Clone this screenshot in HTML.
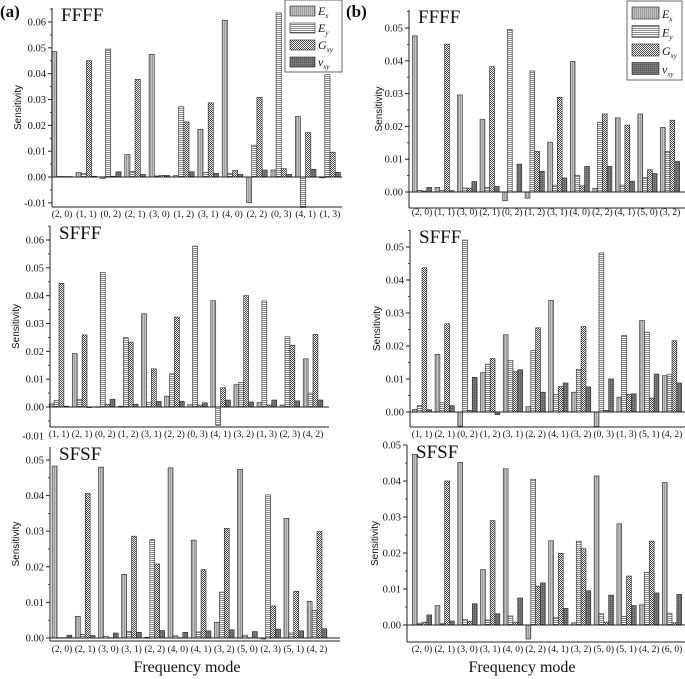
<!DOCTYPE html>
<html><head><meta charset="utf-8"><style>
body{margin:0;background:#fff;}
svg{display:block;font-family:"Liberation Serif",serif;}
</style></head><body>
<svg id="c" width="685" height="679" viewBox="0 0 685 679">
<defs>
<pattern id="pEs" width="2" height="4" patternUnits="userSpaceOnUse"><rect width="2" height="4" fill="#c4c4c4"/><rect width="0.7" height="4" fill="#888"/></pattern>
<pattern id="pEy" width="4" height="2" patternUnits="userSpaceOnUse"><rect width="4" height="2" fill="#fff"/><rect width="4" height="0.7" fill="#555"/></pattern>
<pattern id="pGxy" width="2" height="2" patternUnits="userSpaceOnUse"><rect width="2" height="2" fill="#fff"/><rect width="1" height="1" fill="#444"/><rect x="1" y="1" width="1" height="1" fill="#444"/></pattern>
<pattern id="pVxy" width="2" height="2" patternUnits="userSpaceOnUse"><rect width="2" height="2" fill="#8a8a8a"/><rect width="0.6" height="2" fill="#555"/><rect width="2" height="0.6" fill="#555"/></pattern>
</defs>
</svg>
<script>
const seriesNames=["Es","Ey","Gxy","vxy"];
const fills=["url(#pEs)","url(#pEy)","url(#pGxy)","url(#pVxy)"];
const catA1=["(2, 0)","(1, 1)","(0, 2)","(2, 1)","(3, 0)","(1, 2)","(3, 1)","(4, 0)","(2, 2)","(0, 3)","(4, 1)","(1, 3)"];
const esA1=[0.0485,0.0017,-0.0005,0.0087,0.0475,0.0005,0.0185,0.0607,-0.0099,0.0027,0.0234,-0.0003];
const eyA1=[0.0002,0.0013,0.0495,0.0022,0.0004,0.0272,0.0018,0.0013,0.0123,0.0635,-0.0118,0.0396];
const gA1=[0.0002,0.045,0.0003,0.0378,0.0006,0.0213,0.0287,0.0025,0.0308,0.0032,0.0172,0.0096];
const vA1=[0.0002,0.0003,0.002,0.001,0.0006,0.002,0.0014,0.001,0.0027,0.001,0.003,0.0018];
const catB1=["(2, 0)","(1, 1)","(3, 0)","(2, 1)","(0, 2)","(1, 2)","(3, 1)","(4, 0)","(2, 2)","(4, 1)","(5, 0)","(3, 2)"];
const esB1=[0.0476,0.0014,0.0296,0.0221,-0.0027,-0.0019,0.0152,0.0398,0.0011,0.0226,0.0238,0.0197];
const eyB1=[0.0005,0.0005,0.0012,0.0014,0.0496,0.0369,0.0021,0.005,0.0213,0.0021,0.0044,0.0124];
const gB1=[0.0003,0.0451,0.0012,0.0382,0.0001,0.0124,0.0289,0.0019,0.0238,0.0204,0.0068,0.0219];
const vB1=[0.0014,0.0004,0.0032,0.0017,0.0085,0.0063,0.0043,0.0078,0.0078,0.0033,0.0056,0.0093];
const catA2=["(1, 1)","(2, 1)","(0, 2)","(1, 2)","(3, 1)","(2, 2)","(0, 3)","(4, 1)","(3, 2)","(1, 3)","(2, 3)","(4, 2)"];
const esA2=[0.0011,0.0192,0.0001,0.0003,0.0335,0.0039,0.0008,0.0382,0.008,0.0016,0.0007,0.0173];
const eyA2=[0.0023,0.0028,0.0483,0.0249,0.0016,0.0119,0.0578,-0.0066,0.0088,0.0381,0.0252,0.005];
const gA2=[0.0444,0.0259,0.001,0.0233,0.0137,0.0323,0.0007,0.0069,0.04,0.0007,0.0222,0.0261];
const vA2=[0.0003,0,0.0028,0.001,0.002,0.002,0.0015,0.0025,0.0018,0.0025,0.0022,0.0025];
const catB2=["(1, 1)","(2, 1)","(0, 2)","(1, 2)","(3, 1)","(2, 2)","(4, 1)","(3, 2)","(0, 3)","(1, 3)","(5, 1)","(4, 2)"];
const esB2=[0.0008,0.0175,-0.0043,0.0119,0.0234,0.0016,0.0338,0.006,-0.0044,0.0045,0.0277,0.011];
const eyB2=[0.0019,0.0028,0.0521,0.0145,0.0156,0.0186,0.0053,0.0129,0.0482,0.0232,0.0242,0.0113];
const gB2=[0.0437,0.0267,0.0005,0.0162,0.0122,0.0255,0.0077,0.0259,0.0005,0.0053,0.0042,0.0216];
const vB2=[0.0007,0.0019,0.0105,-0.0008,0.0128,0.006,0.0088,0.0076,0.01,0.0055,0.0115,0.0088];
const catA3=["(2, 0)","(2, 1)","(3, 0)","(3, 1)","(2, 2)","(4, 0)","(4, 1)","(3, 2)","(5, 0)","(2, 3)","(5, 1)","(4, 2)"];
const esA3=[0.0483,0.0061,0.048,0.0179,0.0002,0.0478,0.0275,0.0044,0.0474,-0.0003,0.0336,0.0103];
const eyA3=[0.0001,0.001,0.0005,0.0018,0.0276,0.0006,0.0017,0.0129,0.0008,0.0402,0.0014,0.0078];
const gA3=[0.0001,0.0406,0.0001,0.0286,0.0208,0.0001,0.0192,0.0308,0.0001,0.009,0.0131,0.0299];
const vA3=[0.0008,0.0007,0.0014,0.0016,0.0021,0.0016,0.002,0.0023,0.0018,0.0025,0.002,0.0026];
const catB3=["(2, 0)","(2, 1)","(3, 0)","(3, 1)","(4, 0)","(2, 2)","(4, 1)","(3, 2)","(5, 0)","(5, 1)","(4, 2)","(6, 0)"];
const esB3=[0.0474,0.0054,0.0452,0.0154,0.0434,-0.0039,0.0234,0.0006,0.0414,0.0281,0.0056,0.0396];
const eyB3=[0.0005,0.0005,0.0016,0.0014,0.0025,0.0405,0.002,0.0233,0.0031,0.0024,0.0146,0.0033];
const gB3=[0.0008,0.04,0.001,0.029,0.0008,0.0108,0.0199,0.0212,0.0008,0.0136,0.0233,0.0006];
const vB3=[0.0028,0.0011,0.0059,0.0031,0.0075,0.0117,0.0046,0.0095,0.0083,0.0054,0.0089,0.0085];
const ticksA1=[-0.01,0,0.01,0.02,0.03,0.04,0.05,0.06];
const ticksB1=[0,0.01,0.02,0.03,0.04,0.05];
const ticksA2=[-0.01,0,0.01,0.02,0.03,0.04,0.05,0.06];
const ticksB2=[0,0.01,0.02,0.03,0.04,0.05];
const ticksA3=[0,0.01,0.02,0.03,0.04,0.05];
const ticksB3=[0,0.01,0.02,0.03,0.04,0.05];

const svg=document.getElementById('c');
const NS='http://www.w3.org/2000/svg';
function mk(tag,attrs,parent){const e=document.createElementNS(NS,tag);for(const k in attrs)e.setAttribute(k,attrs[k]);(parent||svg).appendChild(e);return e;}
function fmt(v){return v.toFixed(2);}

const panels=[
 {id:'a-ffff',title:'FFFF',cats:catA1,data:[esA1,eyA1,gA1,vA1],ticks:ticksA1,ax:52,xr:342,y0:177,v1:0.06,y1:22,top:8,bot:207,c0:62,c1:330,ly:217,sx:18,tlbl:-0.01,tly:null},
 {id:'b-ffff',title:'FFFF',cats:catB1,data:[esB1,eyB1,gB1,vB1],ticks:ticksB1,ax:409,xr:685,y0:192,v1:0.05,y1:28,top:10,bot:208,c0:422,c1:670,ly:215,sx:379},
 {id:'a-sfff',title:'SFFF',cats:catA2,data:[esA2,eyA2,gA2,vA2],ticks:ticksA2,ax:50,xr:329,y0:407,v1:0.06,y1:240,top:226,bot:427,c0:59,c1:313,ly:437,sx:16,fixNeg:436},
 {id:'b-sfff',title:'SFFF',cats:catB2,data:[esB2,eyB2,gB2,vB2],ticks:ticksB2,ax:410,xr:685,y0:412,v1:0.05,y1:247,top:230,bot:427,c0:422,c1:672,ly:437,sx:377},
 {id:'a-sfsf',title:'SFSF',cats:catA3,data:[esA3,eyA3,gA3,vA3],ticks:ticksA3,ax:50,xr:340,y0:638,v1:0.05,y1:460,top:447,bot:641,c0:62,c1:317,ly:652,sx:16},
 {id:'b-sfsf',title:'SFSF',cats:catB3,data:[esB3,eyB3,gB3,vB3],ticks:ticksB3,ax:407,xr:685,y0:625,v1:0.05,y1:445,top:445,bot:642,c0:422,c1:672,ly:652,sx:375}
];

panels.forEach(p=>{
 const g=mk('g',{});
 
 
 const k=(p.y0-p.y1)/p.v1;
 const yS=v=>p.y0-v*k;
 const n=p.cats.length;
 const step=(p.c1-p.c0)/(n-1);
 const bw=step*0.85/4;
 // bars
 p.cats.forEach((c,i)=>{
  const cx=p.c0+i*step;
  for(let s=0;s<4;s++){
   const v=p.data[s][i];
   const x=cx-2*bw+s*bw;
   const y=Math.min(yS(v),yS(0));
   const h=Math.max(Math.abs(yS(v)-yS(0)),0.6);
   const r=mk('rect',{x:x.toFixed(2),y:y.toFixed(2),width:bw.toFixed(2),height:h.toFixed(2),fill:fills[s],stroke:'#222','stroke-width':0.6},g);
   
   
  }
  const t=mk('text',{x:cx,y:p.ly,'font-size':9.5,'text-anchor':'middle',fill:'#111'},g);
  t.textContent=c;
  
  
 });
 // axes
 const ya=mk('line',{x1:p.ax,x2:p.ax,y1:p.top,y2:p.bot,stroke:'#222','stroke-width':1},g);
 
 
 const xa=mk('line',{x1:p.ax,x2:p.xr,y1:p.bot,y2:p.bot,stroke:'#222','stroke-width':1},g);
 
 
 const zl=mk('line',{x1:p.ax,x2:p.xr,y1:p.y0,y2:p.y0,stroke:'#222','stroke-width':0.9},g);
 
 
 p.ticks.forEach(v=>{
  let y=yS(v);
  if(v<0 && p.fixNeg) y=p.fixNeg;
  if(y<p.top-3) return;
  if(y<=p.bot+1) mk('line',{x1:p.ax-4,x2:p.ax,y1:y,y2:y,stroke:'#222','stroke-width':1},g);
  const my=yS(v+0.005);
  if(my>p.top && my<p.bot) mk('line',{x1:p.ax-2,x2:p.ax,y1:my,y2:my,stroke:'#222','stroke-width':0.8},g);
  const t=mk('text',{x:p.ax-6,y:y+3.5,'font-size':10.5,'text-anchor':'end',fill:'#111'},g);
  t.textContent=fmt(v);
  
  
 });
 const yl=mk('text',{x:0,y:0,'font-size':10,'text-anchor':'middle','font-family':'Liberation Sans, sans-serif',transform:`translate(${p.sx+3},${(p.top+p.bot)/2}) rotate(-90)`,fill:'#111'},g);
 yl.textContent='Sensitivity';
 
 
 const tt=mk('text',{x:p.ax+9,y:p.top+13,'font-size':19,fill:'#111'},g);
 tt.textContent=p.title;
 
 
});

// panel letters
[['(a)',0],['(b)',346]].forEach(([s,x])=>{
 const t=mk('text',{x:x,y:17,'font-size':17,'font-weight':'bold',fill:'#111'});
 t.textContent=s;
 
 
});
// x axis titles
[187,522].forEach(x=>{
 const t=mk('text',{x:x,y:672,'font-size':16,'text-anchor':'middle',fill:'#111'});
 t.textContent='Frequency mode';
 
 
});
// legends
const labelsHTML=[['E','x'],['E','y'],['G','xy'],['v','xy']];
[{x:285,y:0,w:57,h:72,sw:25,sh:10,dy:17},{x:627,y:1,w:55,h:79,sw:27,sh:12,dy:18.5}].forEach((L,li)=>{
 const g=mk('g',{});
 
 
 mk('rect',{x:L.x,y:L.y,width:L.w,height:L.h,fill:'#fff',stroke:'#444','stroke-width':0.8},g);
 labelsHTML.forEach((lab,i)=>{
  const y=L.y+6+i*L.dy;
  const r=mk('rect',{x:L.x+5,y:y,width:L.sw,height:L.sh,fill:fills[i],stroke:'#222','stroke-width':0.6},g);
  
  
  const t=mk('text',{x:L.x+L.sw+8,y:y+L.sh-1,'font-size':12,'font-style':'italic',fill:'#111'},g);
  
  
  const a=mk('tspan',{},t);a.textContent=lab[0];
  const b=mk('tspan',{'font-size':7,dy:3},t);b.textContent=lab[1];
 });
});
</script>
</body></html>
